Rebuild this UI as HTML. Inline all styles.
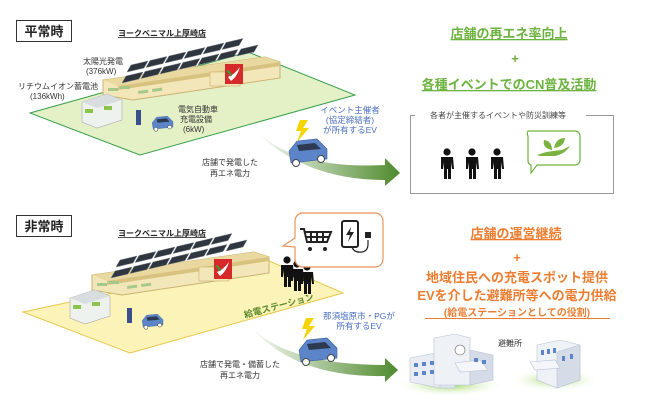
<!DOCTYPE html>
<html><head><meta charset="utf-8"><style>
html,body{margin:0;padding:0;background:#fff;}
svg{display:block;font-family:"Liberation Sans","Noto Sans CJK JP",sans-serif;}
</style></head><body>
<svg width="650" height="414" viewBox="0 0 650 414" xmlns="http://www.w3.org/2000/svg">
<defs>
<linearGradient id="ag" x1="0" y1="0" x2="1" y2="0"><stop offset="0" stop-color="#fff"/><stop offset="1" stop-color="#4f8a2e"/></linearGradient>
<radialGradient id="gr" cx="0.5" cy="0.5" r="0.5"><stop offset="0" stop-color="#9bd45a"/><stop offset="1" stop-color="#fff" stop-opacity="0"/></radialGradient>
<polygon id="pnl" points="0,0 17,-4 21,-11 4,-7" fill="#2f3640" stroke="#7a808a" stroke-width="0.5"/>
<g id="store">
 <polygon points="103,80 265,57 280,62 280,78 133,100 103,95" fill="#f3e6b8" stroke="#c9b370" stroke-width="1"/>
 <polygon points="103,80 265,57 280,62 118,86" fill="#e9d9a0"/>
 <polygon points="118,86 280,62 280,66 118,90" fill="#d8c27f"/>
 <rect x="108" y="88" width="10" height="3" fill="#a6c98a"/><rect x="120" y="86" width="10" height="3" fill="#a6c98a"/>
 <rect x="138" y="91" width="10" height="3" fill="#a6c98a" transform="rotate(-8 138 91)"/><rect x="152" y="89" width="10" height="3" fill="#a6c98a" transform="rotate(-8 152 89)"/>
 <use href="#pnl" x="122" y="83"/><use href="#pnl" x="141" y="78.5"/><use href="#pnl" x="160" y="74"/><use href="#pnl" x="179" y="69.5"/><use href="#pnl" x="198" y="65"/><use href="#pnl" x="217" y="60.5"/>
 <use href="#pnl" x="127" y="72"/><use href="#pnl" x="146" y="67.5"/><use href="#pnl" x="165" y="63"/><use href="#pnl" x="184" y="58.5"/><use href="#pnl" x="203" y="54"/><use href="#pnl" x="222" y="49.5"/><use href="#pnl" x="237" y="56"/>
 <rect x="210" y="72" width="30" height="14" fill="#f3e6b8" stroke="#c9b370" stroke-width="0.6"/>
 <rect x="225" y="64" width="18" height="20" fill="#d62a2a"/>
 <path d="M228,77 q6,-2 12,-10 q-3,10 -9,14z" fill="#fff"/>
 <path d="M227,71 q3,1 4,5" stroke="#3a9a3a" stroke-width="2" fill="none"/>
</g>
<g id="car">
 <polygon points="2,14 10,4 30,2 40,12 40,22 4,26" fill="#5b85c8" stroke="#3a5d96" stroke-width="0.6"/>
 <polygon points="10,8 28,6 34,12 12,14" fill="#2e3a52"/>
 <circle cx="9" cy="26" r="3.5" fill="#fff" stroke="#444"/><circle cx="34" cy="22" r="3.5" fill="#fff" stroke="#444"/>
</g>
<g id="batt">
 <polygon points="0,8 25,0 40,6 40,26 15,34 0,28" fill="#eef2ef" stroke="#aaa" stroke-width="0.6"/>
 <polygon points="0,8 25,0 40,6 15,14" fill="#d8dee0"/>
 <rect x="3" y="15" width="8" height="4" fill="#8cc34a"/><rect x="22" y="12" width="8" height="4" fill="#8cc34a"/>
</g>
<g id="person">
 <circle cx="7" cy="4" r="3.6" fill="#111"/>
 <path d="M1,9 h12 l1,12 h-2 l-1,-7 v17 h-3 v-10 h-1 v10 h-3 v-17 l-1,7 h-2z" fill="#111"/>
</g>
</defs>

<!-- TOP -->
<rect x="16.5" y="20.5" width="55" height="21" fill="#fff" stroke="#333"/>
<text x="44" y="36" font-size="13" font-weight="bold" text-anchor="middle" fill="#222">平常時</text>
<text x="118" y="36" font-size="8" font-weight="bold" fill="#222" text-decoration="underline">ヨークベニマル上厚崎店</text>
<polygon points="30,113 248,52 355,95 140,155" fill="#e4f1c7" stroke="#3aa04a" stroke-width="1"/>
<use href="#store"/>
<use href="#batt" x="82" y="94"/>
<rect x="136" y="110" width="5" height="15" fill="#3b4f8c"/>
<use href="#car" transform="translate(151,115) scale(0.55)"/>
<text x="83" y="64" font-size="8" fill="#333">太陽光発電</text>
<text x="86" y="74" font-size="8" fill="#333">(376kW)</text>
<text x="18" y="89" font-size="8" fill="#333">リチウムイオン蓄電池</text>
<text x="30" y="99" font-size="8" fill="#333">(136kWh)</text>
<text x="178" y="112" font-size="8" fill="#333">電気自動車</text>
<text x="180" y="122" font-size="8" fill="#333">充電設備</text>
<text x="183" y="132" font-size="8" fill="#333">(6kW)</text>
<path d="M250,125 Q290,170 385,165 L385,158 L400,173 L385,186 L385,180 Q300,180 250,125z" fill="url(#ag)"/>
<use href="#car" x="287" y="137"/>
<polygon points="300,120 308,120 303,128 309,128 297,142 301,131 296,131" fill="#f5d400"/>
<text x="350" y="113" font-size="8.5" fill="#4a6fc2" text-anchor="middle">イベント主催者</text>
<text x="350" y="123" font-size="8.5" fill="#4a6fc2" text-anchor="middle">(協定締結者)</text>
<text x="350" y="133" font-size="8.5" fill="#4a6fc2" text-anchor="middle">が所有するEV</text>
<text x="230" y="165" font-size="8" fill="#333" text-anchor="middle">店舗で発電した</text>
<text x="230" y="176" font-size="8" fill="#333" text-anchor="middle">再エネ電力</text>

<text x="509" y="38" font-size="13" font-weight="bold" fill="#6db33f" text-anchor="middle" text-decoration="underline">店舗の再エネ率向上</text>
<text x="515" y="63" font-size="13" font-weight="bold" fill="#6db33f" text-anchor="middle">+</text>
<text x="509" y="89" font-size="13" font-weight="bold" fill="#6db33f" text-anchor="middle" text-decoration="underline">各種イベントでのCN普及活動</text>
<path d="M415,115.5 H410.5 V193.5 H613.5 V115.5 H586" fill="none" stroke="#999"/>
<text x="498" y="118" font-size="8" fill="#444" text-anchor="middle">各者が主催するイベントや防災訓練等</text>
<use href="#person" x="440" y="148"/><use href="#person" x="465" y="148"/><use href="#person" x="490" y="148"/>
<path d="M528,131 h47 a5,5 0 0 1 5,5 v24 a5,5 0 0 1 -5,5 h-38 l-6,8 l0,-8 a5,5 0 0 1 -3,-5 v-24 a5,5 0 0 1 0,-5z" fill="#fff" stroke="#6db33f" stroke-width="1.2"/>
<path d="M537,155 q10,-4 25,-5 l8,-4 q-5,8 -15,10 h-15z" fill="#7bb342"/>
<path d="M552,150 q-10,-2 -8,-10 q8,1 8,10z M554,148 q2,-10 11,-10 q-1,9 -11,10z" fill="#7bb342"/>

<!-- BOTTOM -->
<rect x="16.5" y="215.5" width="55" height="21" fill="#fff" stroke="#333"/>
<text x="44" y="231" font-size="13" font-weight="bold" text-anchor="middle" fill="#222">非常時</text>
<text x="118" y="236" font-size="8" font-weight="bold" fill="#222" text-decoration="underline">ヨークベニマル上厚崎店</text>
<polygon points="23,312 267,260 343,293 130,353" fill="#fcf3b8" stroke="#e8c84a" stroke-width="1"/>
<use href="#store" x="-11" y="195"/>
<use href="#batt" x="70" y="290"/>
<rect x="127" y="308" width="5" height="15" fill="#3b4f8c"/>
<use href="#car" transform="translate(141,313) scale(0.55)"/>
<text x="245" y="318" font-size="9" font-weight="bold" fill="#5a8a2a" transform="rotate(-15 245 318)">給電ステーション</text>
<use href="#person" x="280" y="256"/><use href="#person" x="290" y="260"/><use href="#person" x="300" y="263"/>
<path d="M300,213 h75 a8,8 0 0 1 8,8 v38 a8,8 0 0 1 -8,8 h-72 a8,8 0 0 1 -8,-8 v-12 l-12,-1 l12,-8 v-17 a8,8 0 0 1 8,-8z" fill="#fff" stroke="#e8935a" stroke-width="1.2"/>
<g stroke="#222" stroke-width="2" fill="none">
 <path d="M300,229 h4 l3,13 h20 l4,-10 h-26"/>
 <path d="M311,232 v10 M317,232 v10 M323,232 v10 M306,237 h23"/>
</g>
<circle cx="310" cy="249" r="2" fill="#222"/><circle cx="325" cy="249" r="2" fill="#222"/>
<rect x="342" y="221" width="16" height="26" rx="2" fill="#fff" stroke="#222" stroke-width="2"/>
<polygon points="351,227 346,235 350,235 348,242 354,232 350,232" fill="#222"/>
<path d="M352,247 q2,6 10,5 q6,-1 6,-8 v-4" fill="none" stroke="#222" stroke-width="1.2"/>
<rect x="365" y="232" width="6" height="6" fill="#222"/>
<path d="M245,320 Q280,365 385,365 L385,358 L398,370 L385,382 L385,376 Q290,378 245,320z" fill="url(#ag)"/>
<use href="#car" x="297" y="336"/>
<polygon points="306,318 314,318 309,326 315,326 303,340 307,329 302,329" fill="#f5d400"/>
<text x="359" y="319" font-size="8.5" fill="#4a6fc2" text-anchor="middle">那須塩原市・PGが</text>
<text x="359" y="329" font-size="8.5" fill="#4a6fc2" text-anchor="middle">所有するEV</text>
<text x="240" y="367" font-size="8" fill="#333" text-anchor="middle">店舗で発電・備蓄した</text>
<text x="240" y="378" font-size="8" fill="#333" text-anchor="middle">再エネ電力</text>

<text x="516" y="238" font-size="13" font-weight="bold" fill="#ed7d31" text-anchor="middle" text-decoration="underline">店舗の運営継続</text>
<text x="517" y="262" font-size="13" font-weight="bold" fill="#ed7d31" text-anchor="middle">+</text>
<text x="517" y="282" font-size="13" font-weight="bold" fill="#ed7d31" text-anchor="middle">地域住民への充電スポット提供</text>
<text x="517" y="300" font-size="13" font-weight="bold" fill="#ed7d31" text-anchor="middle">EVを介した避難所等への電力供給</text>
<text x="517" y="316" font-size="10" font-weight="bold" fill="#ed7d31" text-anchor="middle">(給電ステーションとしての役割)</text>
<line x1="425" y1="318.5" x2="610" y2="318.5" stroke="#ed7d31"/>

<ellipse cx="450" cy="385" rx="55" ry="12" fill="url(#gr)"/>
<ellipse cx="555" cy="380" rx="45" ry="11" fill="url(#gr)"/>
<g stroke="#b8c4d6" stroke-width="0.6">
 <polygon points="410,358 440,352 440,388 410,382" fill="#e9edf3"/>
 <polygon points="440,352 455,350 455,388 440,388" fill="#dfe5ee"/>
 <polygon points="434,338 455,334 470,338 470,385 434,385" fill="#eef1f6"/>
 <polygon points="470,350 493,355 493,380 470,385" fill="#d5dce7"/>
 <circle cx="460" cy="350" r="5" fill="#fff" stroke="#666"/>
 <polygon points="455,363 480,360 488,370 460,372" fill="#f4f6f9"/>
 <polygon points="537,345 560,340 580,345 580,380 557,388 537,380" fill="#eef1f6"/>
 <polygon points="557,352 580,345 580,380 557,388" fill="#d5dce7"/>
 <polygon points="530,362 555,360 560,368 535,370" fill="#f4f6f9"/>
</g>
<g fill="#5b85c8">
 <rect x="414" y="363" width="4" height="4"/><rect x="422" y="362" width="4" height="4"/><rect x="430" y="361" width="4" height="4"/>
 <rect x="414" y="372" width="4" height="4"/><rect x="422" y="371" width="4" height="4"/><rect x="430" y="370" width="4" height="4"/>
 <rect x="474" y="358" width="4" height="4"/><rect x="482" y="360" width="4" height="4"/>
 <rect x="541" y="350" width="3" height="5"/><rect x="547" y="349" width="3" height="5"/><rect x="553" y="348" width="3" height="5"/>
 <rect x="562" y="356" width="3" height="5"/><rect x="570" y="354" width="3" height="5"/>
</g>
<text x="510" y="346" font-size="8" fill="#333" text-anchor="middle">避難所</text>
</svg>
</body></html>
